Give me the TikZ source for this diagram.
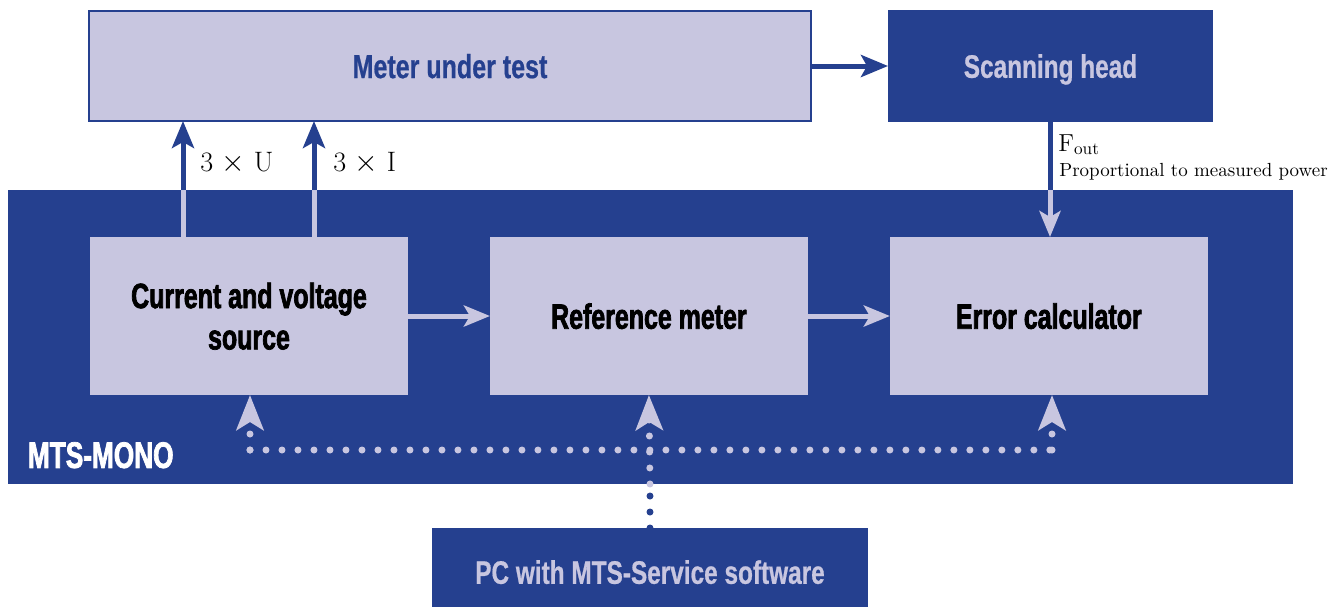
\documentclass[tikz,border=0pt]{standalone}
\usepackage{fontspec}
\newfontfamily\headfont[FakeStretch=0.75,BoldFeatures={FakeBold=0.6}]{Liberation Sans}
\newfontfamily\blackfont[FakeStretch=0.71,BoldFeatures={FakeBold=2}]{Liberation Sans}
\usetikzlibrary{arrows.meta,positioning}
\definecolor{mtsblue}{RGB}{37,64,143}
\definecolor{mtslight}{RGB}{200,198,224}

\begin{document}
\begin{tikzpicture}[x=0.02cm,y=-0.02cm]
		\tikzstyle{block}=[rectangle, fill=mtslight, minimum width=6.36cm, minimum height=3.16cm, inner sep=0pt, outer sep=0pt, align=center, text depth=0pt, font=\blackfont\bfseries\fontsize{20}{23.5}\selectfont, node distance=1.64cm]
		\tikzstyle{darkbox}=[rectangle, fill=mtsblue, inner sep=0pt, outer sep=0pt, text depth=0pt, text=mtslight, font=\headfont\bfseries\fontsize{18.5}{22}\selectfont]
		\tikzstyle{darkline}=[draw=mtsblue, line width=0.1cm]
		\tikzstyle{lightline}=[draw=mtslight, line width=0.1cm]
		\tikzstyle{darkarrow}=[darkline, -{Stealth[length=0.54cm,width=0.44cm,inset=0.12cm]}]
		\tikzstyle{lightarrow}=[lightline, -{Stealth[length=0.52cm,width=0.42cm,inset=0.12cm]}]
		\tikzstyle{dots}=[line width=0.14cm, line cap=round, dash pattern=on 0pt off 0.32cm]
		\tikzstyle{dotarrow}=[dots, draw=mtslight, -{Stealth[length=0.7cm,width=0.54cm,inset=0.16cm]}]
		\tikzstyle{label}=[inner sep=0pt, font=\fontsize{16}{18}\selectfont]
		\useasboundingbox (0,0) rectangle (1343,606);
		
		\node[darkbox, minimum width=25.7cm, minimum height=5.88cm] (mono) at (650.5,337) {};
		\node[darkbox, anchor=west, text=white, font=\blackfont\bfseries\fontsize{21}{24}\selectfont] (monolabel) at (28,455) {MTS-MONO};
		
		\node[block]                (src) at (249,316) {Current and voltage\\source};
		\node[block, right=of src]  (ref) {Reference meter};
		\node[block, right=of ref]  (err) {Error calculator};
		
		\node[block, draw=mtsblue, line width=0.04cm, minimum width=14.44cm, minimum height=2.2cm, text=mtsblue, font=\headfont\bfseries\fontsize{19}{22}\selectfont] (mut) at (450,66) {Meter under test};
		\node[darkbox, minimum width=6.5cm, minimum height=2.24cm]  (scan) at (1050.5,66) {Scanning head};
		\node[darkbox, minimum width=8.72cm, minimum height=1.76cm] (pc) at (650,572) {PC with MTS-Service software};
		
		% signals to and from the meter
		\coordinate (uU) at (183,190);
		\coordinate (uI) at (314,190);
		\coordinate (fo) at (1050,190);
		\draw[lightline] (src.north -| uU) -- (uU);
		\draw[darkarrow] (uU) -- (mut.south -| uU);
		\draw[lightline] (src.north -| uI) -- (uI);
		\draw[darkarrow] (uI) -- (mut.south -| uI);
		\draw[darkarrow] (mut.east) -- (scan.west);
		\draw[darkline] (scan.south -| fo) -- (fo);
		\draw[lightarrow] (fo) -- (err.north -| fo);
		\draw[lightarrow] (src.east) -- (ref.west);
		\draw[lightarrow] (ref.east) -- (err.west);
		
		\node[label, anchor=west] (lblU) at (200,163) {3 $\times$ U};
		\node[label, anchor=west] (lblI) at (333,163) {3 $\times$ I};
		\node[label, anchor=base west, font=\fontsize{14}{16}\selectfont] (fout) at (1058,151) {F\textsubscript{out}};
		\node[label, anchor=base west, font=\fontsize{10.8}{12}\selectfont] (prop) at (1059,176) {Proportional to measured power};
		
		% dotted service bus
		\coordinate (busL) at (250,450);
		\coordinate (busR) at (1052,450);
		\coordinate (busE) at (mono.south -| pc);
		\draw[dots, draw=mtsblue] (pc.north) -- (busE);
		\draw[dotarrow] (busE) -- (ref.south);
		\draw[dots, draw=mtslight] (busL) -- (busR);
		\draw[dotarrow] (busL) -- (src.south -| busL);
		\draw[dotarrow] (busR) -- (err.south -| busR);
		
\end{tikzpicture}
\end{document}
